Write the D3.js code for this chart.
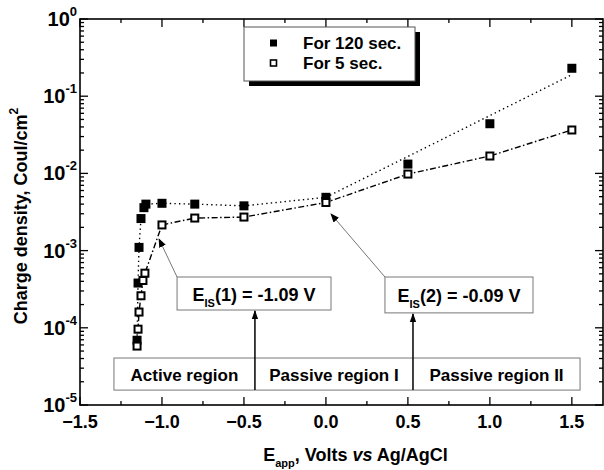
<!DOCTYPE html>
<html>
<head>
<meta charset="utf-8">
<script src="https://cdn.jsdelivr.net/npm/d3@7/dist/d3.min.js"></script>
<style>
  html, body { margin: 0; padding: 0; background: #fff; }
  svg { display: block; font-family: Arial, "Liberation Sans", Helvetica, sans-serif; }
  text { font-weight: bold; fill: #000; }
</style>
</head>
<body>
<svg id="chart" width="604" height="470"></svg>
<script>
// Applied potential (V vs Ag/AgCl) and charge density (C/cm^2)
const potential120 = [-1.152, -1.146, -1.140, -1.128, -1.110, -1.098, -1.0, -0.8, -0.5, 0.0, 0.5, 1.0, 1.5];
const charge120    = [6.9e-5, 3.8e-4, 1.1e-3, 2.6e-3, 3.6e-3, 4.0e-3, 4.1e-3, 4.0e-3, 3.8e-3, 4.9e-3, 1.32e-2, 4.4e-2, 0.23];
const potential5   = [-1.152, -1.146, -1.140, -1.128, -1.116, -1.104, -1.0, -0.8, -0.5, 0.0, 0.5, 1.0, 1.5];
const charge5      = [5.8e-5, 9.6e-5, 1.6e-4, 2.6e-4, 4.1e-4, 5.1e-4, 2.15e-3, 2.64e-3, 2.72e-3, 4.2e-3, 9.8e-3, 1.68e-2, 3.65e-2];
// Exponential trend through passive region II for the 120 s series
const trendPotential120 = [0.0, 1.5];
const trendCharge120    = [4.9e-3, 0.19];

const xTickValues = [-1.5, -1.0, -0.5, 0.0, 0.5, 1.0, 1.5];
const xMinorValues = [-1.25, -0.75, -0.25, 0.25, 0.75, 1.25];
const yTickExponents = [0, -1, -2, -3, -4, -5];
const legendLabels = ["For 120 sec.", "For 5 sec."];
const regionLabels = ["Active region", "Passive region I", "Passive region II"];
const regionBounds = [-1.293, -0.433, 0.531, 1.55];
const isLabels = [{num: "1", val: "-1.09 V"}, {num: "2", val: "-0.09 V"}];

const W = 604, H = 470;
const margin = {left: 80, top: 19, right: 1, bottom: 65};
const svg = d3.select("#chart");

const x = d3.scaleLinear().domain([-1.5, 1.69]).range([margin.left, W - margin.right]);
const y = d3.scaleLog().domain([1e-5, 1]).range([H - margin.bottom, margin.top]);
const x0 = x.range()[0], x1 = x.range()[1], y0 = y.range()[0], y1 = y.range()[1];

// ---- axes frame with inward ticks on all four sides ----
const yMinor = [];
for (let e = -5; e < 0; e++) for (let m = 2; m <= 9; m++) yMinor.push(m * Math.pow(10, e));
const yMajor = yTickExponents.map(e => Math.pow(10, e));

const axes = svg.append("g").attr("stroke", "#000").attr("fill", "none");
function ticks(g, vals, len, side) {
  vals.forEach(v => {
    if (side === "bottom") g.append("line").attr("x1", x(v)).attr("x2", x(v)).attr("y1", y0).attr("y2", y0 - len);
    if (side === "top") g.append("line").attr("x1", x(v)).attr("x2", x(v)).attr("y1", y1).attr("y2", y1 + len);
    if (side === "left") g.append("line").attr("x1", x0).attr("x2", x0 + len).attr("y1", y(v)).attr("y2", y(v));
    if (side === "right") g.append("line").attr("x1", x1).attr("x2", x1 - len).attr("y1", y(v)).attr("y2", y(v));
  });
}
const tg = axes.append("g").attr("stroke-width", 1.3);
ticks(tg, xTickValues, 8, "bottom"); ticks(tg, xMinorValues, 4, "bottom");
ticks(tg, xTickValues, 8, "top"); ticks(tg, xMinorValues, 4, "top");
ticks(tg, yMajor, 8, "left"); ticks(tg, yMinor, 4, "left");
ticks(tg, yMajor, 8, "right"); ticks(tg, yMinor, 4, "right");
axes.append("rect").attr("x", x0).attr("y", y1).attr("width", x1 - x0).attr("height", y0 - y1)
  .attr("stroke-width", 1.6);

// tick labels
svg.append("g").selectAll("text").data(xTickValues).join("text")
  .attr("x", d => x(d)).attr("y", y0 + 23).attr("text-anchor", "middle")
  .attr("font-size", 18).text(d => d3.format(".1f")(d));

const yl = svg.append("g").selectAll("text").data(yTickExponents).join("text")
  .attr("x", 77).attr("y", d => y(Math.pow(10, d)) + 7).attr("text-anchor", "end").attr("font-size", 20);
yl.append("tspan").text("10");
yl.append("tspan").attr("font-size", 13).attr("dy", -10).text(d => String(d));

// axis titles
svg.append("text").attr("transform", `translate(27,${(y0 + y1) / 2 + 4}) rotate(-90)`)
  .attr("text-anchor", "middle").attr("font-size", 18)
  .call(t => { t.append("tspan").text("Charge density, Coul/cm"); t.append("tspan").attr("font-size", 12).attr("dy", -9).text("2"); });

const xt = svg.append("text").attr("x", (x0 + x1) / 2 + 14).attr("y", 461).attr("text-anchor", "middle").attr("font-size", 18);
xt.append("tspan").text("E");
xt.append("tspan").attr("font-size", 11).attr("dy", 6).text("app");
xt.append("tspan").attr("dy", -6).text(", Volts ");
xt.append("tspan").attr("font-style", "italic").text("vs");
xt.append("tspan").text(" Ag/AgCl");

// ---- series lines ----
const line = d3.line().x(d => x(d[0])).y(d => y(d[1]));
const pts120 = potential120.map((p, i) => [p, charge120[i]]);
const pts5 = potential5.map((p, i) => [p, charge5[i]]);
const passive120 = pts120.filter(d => d[0] <= 0);
const trend120 = trendPotential120.map((p, i) => [p, trendCharge120[i]]);

const lines = svg.append("g").attr("fill", "none").attr("stroke", "#000").attr("stroke-width", 1.4);
lines.append("path").attr("d", line(passive120)).attr("stroke-dasharray", "1.4 3.2");
lines.append("path").attr("d", line(trend120)).attr("stroke-dasharray", "1.4 3.2");
lines.append("path").attr("d", line(pts5)).attr("stroke-dasharray", "6 2.5 1.5 2.5");

// ---- markers ----
const S = 9;
svg.append("g").selectAll("rect").data(pts120).join("rect")
  .attr("x", d => x(d[0]) - S / 2).attr("y", d => y(d[1]) - S / 2)
  .attr("width", S).attr("height", S).attr("fill", "#000");
svg.append("g").selectAll("rect").data(pts5).join("rect")
  .attr("x", d => x(d[0]) - (S - 2) / 2).attr("y", d => y(d[1]) - (S - 2) / 2)
  .attr("width", S - 2).attr("height", S - 2).attr("fill", "#fff").attr("stroke", "#000").attr("stroke-width", 2);

// ---- legend ----
const lg = {x: 244, y: 27, w: 171, h: 54};
svg.append("rect").attr("x", lg.x + 5).attr("y", lg.y + 5).attr("width", lg.w).attr("height", lg.h).attr("fill", "#000");
svg.append("rect").attr("x", lg.x).attr("y", lg.y).attr("width", lg.w).attr("height", lg.h)
  .attr("fill", "#fff").attr("stroke", "#555").attr("stroke-width", 1);
legendLabels.forEach((lab, i) => {
  const cy = lg.y + 16 + i * 20;
  if (i === 0) svg.append("rect").attr("x", 270).attr("y", cy - 3.5).attr("width", 7).attr("height", 7).attr("fill", "#000");
  else svg.append("rect").attr("x", 270.5).attr("y", cy - 3).attr("width", 6).attr("height", 6)
    .attr("fill", "#fff").attr("stroke", "#000").attr("stroke-width", 1.6);
  svg.append("text").attr("x", 303).attr("y", cy + 6).attr("font-size", 17).text(lab);
});

// ---- E_IS annotation boxes ----
const marker = svg.append("defs");
marker.append("marker").attr("id", "head").attr("viewBox", "0 0 10 10").attr("refX", 9).attr("refY", 5)
  .attr("markerWidth", 9).attr("markerHeight", 9).attr("markerUnits", "userSpaceOnUse").attr("orient", "auto")
  .append("path").attr("d", "M0,1 L10,5 L0,9 Z").attr("fill", "#000");
marker.append("marker").attr("id", "headBig").attr("viewBox", "0 0 10 10").attr("refX", 9).attr("refY", 5)
  .attr("markerWidth", 11).attr("markerHeight", 9).attr("markerUnits", "userSpaceOnUse").attr("orient", "auto")
  .append("path").attr("d", "M0,1.5 L10,5 L0,8.5 Z").attr("fill", "#000");

const isBoxes = [
  {x: [-0.908, 0.031], y: [4.55e-4, 1.70e-4], tip: [-1.018, 1.41e-3]},
  {x: [0.360, 1.263], y: [4.55e-4, 1.56e-4], tip: [0.031, 2.98e-3]}
];
isBoxes.forEach((b, i) => {
  const bx = x(b.x[0]), by = y(b.y[0]), bw = x(b.x[1]) - bx, bh = y(b.y[1]) - by;
  svg.append("line").attr("x1", bx).attr("y1", by).attr("x2", x(b.tip[0])).attr("y2", y(b.tip[1]))
    .attr("stroke", "#777").attr("stroke-width", 1).attr("marker-end", "url(#head)");
  svg.append("rect").attr("x", bx).attr("y", by).attr("width", bw).attr("height", bh)
    .attr("fill", "#fff").attr("stroke", "#777").attr("stroke-width", 1);
  const t = svg.append("text").attr("x", bx + bw / 2).attr("y", by + bh / 2 + 7).attr("text-anchor", "middle").attr("font-size", 18);
  t.append("tspan").text("E");
  t.append("tspan").attr("font-size", 11).attr("dy", 6).text("IS");
  t.append("tspan").attr("dy", -6).text(`(${isLabels[i].num}) = ${isLabels[i].val}`);
});

// ---- region box ----
const rTop = y(4.06e-5), rBot = y(1.56e-5);
svg.append("rect").attr("x", x(regionBounds[0])).attr("y", rTop)
  .attr("width", x(regionBounds[3]) - x(regionBounds[0])).attr("height", rBot - rTop)
  .attr("fill", "#fff").attr("stroke", "#777").attr("stroke-width", 1);
regionLabels.forEach((lab, i) => {
  svg.append("text").attr("x", (x(regionBounds[i]) + x(regionBounds[i + 1])) / 2).attr("y", rBot - 9)
    .attr("text-anchor", "middle").attr("font-size", 17).text(lab);
});
// dividers that rise as arrows into the E_IS boxes
[[regionBounds[1], 1.70e-4], [regionBounds[2], 1.56e-4]].forEach(([bx, top]) => {
  svg.append("line").attr("x1", x(bx)).attr("x2", x(bx)).attr("y1", rBot).attr("y2", y(top) + 1)
    .attr("stroke", "#000").attr("stroke-width", 1.5).attr("marker-end", "url(#headBig)");
});
</script>
</body>
</html>
